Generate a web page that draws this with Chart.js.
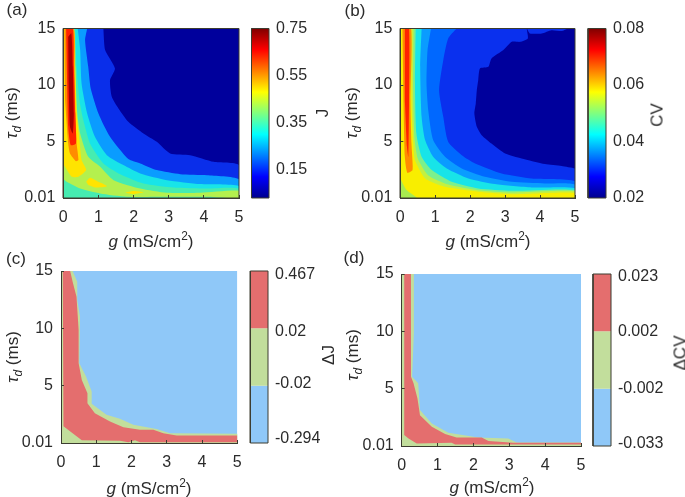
<!DOCTYPE html>
<html><head><meta charset="utf-8">
<script src="https://cdn.jsdelivr.net/npm/chart.js@4"></script>
<style>
html,body{margin:0;padding:0;background:#fff;width:685px;height:497px;overflow:hidden}
canvas{position:absolute;left:0;top:0}
.t{position:absolute;font-family:"Liberation Sans",Arial,sans-serif;color:#2b2b2b;white-space:nowrap;transform:translate(-50%,-50%);font-size:17px;line-height:1}
.r{transform:translate(-50%,-50%) rotate(-90deg)}
sub,sup{font-size:70%;line-height:0}
</style></head><body>
<script>
// ---------- data: contour boundaries in (g, tau_d) ----------
const gTicks=[0,1,2,3,4,5];
const tauTicks=[0.01,5,10,15];
const fullField=[[0,0.01],[5,0.01],[5,15],[0,15]];

// panel (a) J
const aBlue=[[1.14,15],[1.19,13.09],[1.47,11.46],[1.33,10.43],[1.38,8.96],[1.57,7.93],[1.85,6.75],[2.28,5.72],[2.66,4.98],[3.04,3.95],[3.61,3.8],[4.28,3.21],[5,2.92]];
const aAzure=[[0.68,15],[0.62,13.97],[0.71,11.61],[0.78,9.7],[1,7.49],[1.33,5.42],[1.85,3.45],[2.19,3.07],[2.66,2.48],[3.33,2.12],[4.09,2.03],[5,1.68]];
const aCyan=[[0.41,15],[0.48,13.09],[0.52,10.14],[0.68,7.49],[0.9,5.42],[1.24,3.8],[1.71,2.92],[2.19,2.18],[2.95,1.59],[3.9,1.24],[5,1.06]];
const aAqua=[[0.34,15],[0.38,11.61],[0.46,8.66],[0.57,6.9],[0.76,4.83],[1.14,3.07],[1.62,2.12],[2.28,1.3],[3.14,0.94],[4.09,0.85],[5,0.85]];
const aLime=[[0.3,15],[0.34,11.61],[0.4,7.49],[0.48,5.72],[0.71,3.65],[1.05,2.77],[1.43,1.59],[2.19,0.85],[2.95,0.47],[3.9,0.47],[5,0.65],[5,0.01],[4.09,0.12],[2.95,0.12],[1.81,0.12],[1.05,0.41],[0.48,0.85],[0.1,1.44],[0,1.74],[0,15]];
const aYellow=[[0,15],[0.3,15],[0.34,11.61],[0.38,7.49],[0.46,5.13],[0.52,3.36],[0.65,2.48],[0.43,1.89],[0.24,1.89],[0.05,2.77],[0,3.07]];
const aYellowBlob=[[0.65,1.44],[0.76,1.8],[1,1.44],[1.24,1.06],[0.9,0.94],[0.71,1.15]];
const aYellowStreak=[[1.76,0.47],[2,0.62],[2.28,0.5],[2,0.35]];
const aOrange=[[0.03,15],[0.3,15],[0.32,11.61],[0.35,7.49],[0.38,4.83],[0.43,3.36],[0.36,3.27],[0.19,3.95],[0.14,4.83],[0.05,8.66]];
const aRed=[[0.08,15],[0.27,15],[0.3,11.61],[0.34,7.49],[0.36,4.83],[0.21,4.69],[0.14,6.31],[0.1,11.61]];
const aDark=[[0.14,14.26],[0.23,14.56],[0.27,11.61],[0.3,7.49],[0.27,5.72],[0.19,6.31],[0.15,10.43]];

// panel (b) CV
const bNavy=[[5,15],[4.81,15],[4.62,14.77],[4.33,14.85],[4.05,14.56],[3.71,14.56],[3.62,15],[3.65,14.12],[3.43,13.82],[3.19,13.82],[2.95,13.09],[2.61,12.35],[2.52,11.61],[2.28,11.46],[2.23,10.43],[2.19,9.55],[2.16,8.37],[2.12,7.49],[2.19,6.31],[2.33,5.57],[2.61,4.83],[3,3.95],[3.47,3.51],[4.14,3.01],[4.62,2.83],[5,2.62]];
const bMid=[[1.61,15],[1.37,14.12],[1.23,12.2],[1.11,9.55],[1.23,7.19],[1.37,4.98],[1.76,3.8],[2.14,3.07],[2.9,2.18],[3.76,1.74],[5,1.5]];
const bAzure=[[0.88,15],[0.78,13.09],[0.75,10.14],[0.8,7.78],[0.94,5.13],[1.28,3.65],[1.76,2.62],[2.42,1.89],[3.19,1.44],[4.14,1.3],[5,1.21]];
const bCyan=[[0.61,15],[0.57,11.61],[0.61,7.19],[0.71,5.13],[0.94,3.65],[1.33,2.62],[1.95,1.74],[2.71,1.24],[3.76,0.94],[5,0.88]];
const bGreen=[[0.44,15],[0.42,10.14],[0.46,5.72],[0.61,3.65],[0.9,2.48],[1.47,1.44],[2.23,0.85],[3.19,0.65],[5,0.71]];
const bLime=[[0.38,15],[0.37,9],[0.41,5.2],[0.5,3.5],[0.8,2],[1.37,1.2],[2.23,0.7],[3.19,0.5],[5,0.6]];
const bYellow=[[0.32,15],[0.32,8.66],[0.37,4.83],[0.42,3.36],[0.71,1.74],[1.28,1],[2.23,0.56],[3.19,0.35],[5,0.47]];
const bCorner=[[0,1.74],[0.18,0.71],[0.47,0.01],[0,0.01]];
const bOrange=[[0.06,15],[0.31,15],[0.29,8.66],[0.32,4.83],[0.35,2.48],[0.2,2.24],[0.13,3.65],[0.09,8.66]];
const bRed=[[0.13,15],[0.25,15],[0.25,8.66],[0.23,3.65],[0.19,4.54],[0.13,8.66]];

// panel (c) delta J
const cGreen=[[0.33,15],[0.46,14.07],[0.46,12.47],[0.54,11.02],[0.52,6.96],[0.71,5.8],[0.87,4.5],[0.87,3.42],[1.29,2.47],[1.67,2.12],[2.05,1.6],[2.71,1.22],[3.09,0.87],[5,0.81]];
const cRed=[[0.26,15],[0.33,14.07],[0.44,12.76],[0.5,9.86],[0.5,6.96],[0.59,5.51],[0.75,4.35],[0.75,3.48],[0.96,2.61],[1.39,1.89],[1.77,1.39],[2.24,1.16],[2.62,1.16],[2.9,0.87],[3.28,0.67],[5,0.67],[5,0.07],[2.24,0.07],[2.1,0.24],[1.91,0.07],[1.67,0.21],[0.59,0.24],[0.07,1.46],[0.05,15]];

// panel (d) delta CV
const dGreen=[[0.34,15],[0.34,9.83],[0.29,6.05],[0.46,5.47],[0.51,3.14],[0.84,1.98],[1.3,1.16],[2.14,0.76],[2.97,0.67],[3.21,0.32],[5,0.32]];
const dRed=[[0.07,15],[0.26,15],[0.26,6.05],[0.33,5.47],[0.44,4.16],[0.51,2.7],[0.84,1.69],[1.21,1.05],[1.53,0.76],[2.23,0.76],[2.42,0.44],[3.11,0.29],[5,0.29],[5,0.15],[1.49,0.15],[1.39,0.29],[0.42,0.23],[0.19,0.67],[0.07,0.96]];

// colour bars
const aBarTicks=[0.75,0.55,0.35,0.15];
const aBarRange=[0.027,0.75];
const bBarTicks=[0.08,0.06,0.04,0.02];
const bBarRange=[0.02,0.08];
const cBarLabels=['-0.294','-0.02','0.02','0.467'];
const cBarLabelPos=[0.07,1.03,1.95,2.935];
const dBarLabels=['-0.033','-0.002','0.002','0.023'];
const dBarLabelPos=[0.035,1,1.99,2.95];

// ---------- styles ----------
const jetStops=[[0,'#00008f'],[0.125,'#0000ff'],[0.375,'#00ffff'],[0.625,'#ffff00'],[0.875,'#ff0000'],[1,'#800000']];
const NAVY='#00009c',BLUE='#0a2eea',MID='#0068ff',AZ='#0a9cff',CY='#18e4e8',AQ='#46ecb0',LIME='#b4f04e',YEL='#ffe400',OR='#ff8c00',RD='#ff2200',DK='#a80000';
const SKY='#8fc8f8',PALE='#c2de9c',ROSE='#e46e6e';
const FRAME='#3c3c30',TXT='#2b2b2b',FONT='"Liberation Sans",Arial,sans-serif';

const closed=c=>[...c,[5.5,-0.5],[-0.5,-0.5],[-0.5,15.5]];
const panels=[
 {box:[63.3,28.5,239,198],bar:[251.5,28.5,269,198],frame:true,tension:0.2,layers:[[fullField,NAVY],[closed(aBlue),BLUE],[closed(aAzure),AZ],[closed(aCyan),CY],[closed(aAqua),AQ],[aLime,LIME],[aYellow,YEL],[aYellowBlob,YEL],[aYellowStreak,YEL],[aOrange,OR],[aRed,RD],[aDark,DK]]},
 {box:[400.3,28.5,575,198],bar:[588,28.5,606,198],frame:true,tension:0.2,layers:[[fullField,'#0a30ee'],[bNavy,NAVY],[closed(bMid),MID],[closed(bAzure),AZ],[closed(bCyan),CY],[closed(bGreen),'#7cf08c'],[closed(bLime),'#c4f040'],[closed(bYellow),'#f8ee00'],[bCorner,'#a8ec50'],[bOrange,OR],[bRed,RD]]},
 {box:[61,271,237.3,443],bar:[250.3,271,268,443],frame:false,tension:0,layers:[[fullField,SKY],[closed(cGreen),PALE],[cRed,ROSE]]},
 {box:[401.7,274,581,446],bar:[593,274,611,446],frame:false,tension:0,layers:[[fullField,SKY],[closed(dGreen),PALE],[dRed,ROSE]]}
];

const W=685,H=497;
function canvas(){const c=document.createElement('canvas');c.width=W;c.height=H;c.style.width=W+'px';c.style.height=H+'px';document.body.appendChild(c);return c;}
const poly=(pts,color,i,tension)=>({data:pts.map(p=>({x:p[0],y:p[1]})),showLine:true,fill:'shape',backgroundColor:color,borderWidth:0,pointRadius:0,tension:i===0?0:(tension||0),capBezierPoints:false,order:100-i});
const frameSet=(r)=>({data:[[r.x0,r.y0],[r.x1,r.y0],[r.x1,r.y1],[r.x0,r.y1],[r.x0,r.y0]].map(p=>({x:p[0],y:p[1]})),showLine:true,fill:false,borderColor:FRAME,borderWidth:1,pointRadius:0,tension:0,clip:false,order:0});

function plot(p){
 const [l,t,r,b]=p.box;
 const ds=p.layers.map(([pts,col],i)=>poly(pts,col,i,p.tension));
 if(p.frame) ds.push(frameSet({x0:0,x1:5,y0:0.01,y1:15}));
 new Chart(canvas(),{type:'scatter',data:{datasets:ds},options:{
  responsive:false,animation:false,events:[],
  layout:{padding:{left:0,top:t,right:W-r,bottom:H-b-30}},
  plugins:{legend:{display:false},tooltip:{enabled:false}},
  scales:{
   x:{type:'linear',min:0,max:5,afterFit:s=>{s.height=30},afterBuildTicks:s=>{s.ticks=gTicks.map(v=>({value:v}))},
      grid:{drawOnChartArea:false,tickLength:-3,color:FRAME,z:1},border:{color:FRAME,width:1,z:1},
      ticks:{color:TXT,font:{family:FONT,size:16},padding:13,maxRotation:0,callback:v=>String(v)}},
   y:{type:'linear',min:0.01,max:15,afterFit:s=>{s.width=l},afterBuildTicks:s=>{s.ticks=tauTicks.map(v=>({value:v}))},
      grid:{drawOnChartArea:false,tickLength:-3,color:FRAME,z:1},border:{color:FRAME,width:1,z:1},
      ticks:{color:TXT,font:{family:FONT,size:16},padding:11,callback:v=>String(v)}}
  }}});
}
function colorbar(p,cfg){
 const [l,t,r,b]=p.bar;
 const cv=canvas();
 const [lo,hi]=cfg.range;
 let layers;
 if(cfg.jet){
  const g=cv.getContext('2d').createLinearGradient(0,b,0,t);
  jetStops.forEach(s=>g.addColorStop(s[0],s[1]));
  layers=[poly([[0,lo],[1,lo],[1,hi],[0,hi]],g,0,0)];
 } else {
  layers=[poly([[0,0],[1,0],[1,1],[0,1]],SKY,0,0),poly([[0,1],[1,1],[1,2],[0,2]],PALE,1,0),poly([[0,2],[1,2],[1,3],[0,3]],ROSE,2,0)];
 }
 layers.push(frameSet({x0:0,x1:1,y0:lo,y1:hi}));
 new Chart(cv,{type:'scatter',data:{datasets:layers},options:{
  responsive:false,animation:false,events:[],
  layout:{padding:{left:l,top:t,right:W-r-60,bottom:H-b}},
  plugins:{legend:{display:false},tooltip:{enabled:false}},
  scales:{
   x:{type:'linear',display:false,min:0,max:1},
   y:{type:'linear',position:'right',min:lo,max:hi,afterFit:s=>{s.width=60},
      afterBuildTicks:s=>{s.ticks=cfg.pos.map(v=>({value:v}))},
      grid:{display:false,drawTicks:false},border:{display:false},
      ticks:{color:TXT,font:{family:FONT,size:16},padding:7,callback:v=>{const i=cfg.pos.indexOf(v);return cfg.labels[i];}}}
  }}});
}
panels.forEach(plot);
colorbar(panels[0],{jet:true,range:aBarRange,pos:aBarTicks,labels:aBarTicks.map(String)});
colorbar(panels[1],{jet:true,range:bBarRange,pos:bBarTicks,labels:bBarTicks.map(String)});
colorbar(panels[2],{jet:false,range:[0,3],pos:cBarLabelPos,labels:cBarLabels});
colorbar(panels[3],{jet:false,range:[0,3],pos:dBarLabelPos,labels:dBarLabels});

// ---------- text ----------
const GLABEL='<i>g</i> (mS/cm<sup>2</sup>)';
const TLABEL='<i>&tau;<sub>d</sub></i> (ms)';
const texts=[
 ['(a)',17,9,0],['(b)',355,10,0],['(c)',16,258,0],['(d)',354,257,0],
 [GLABEL,151,241,0],[GLABEL,488,241,0],[GLABEL,149,488,0],[GLABEL,492,487,0],
 [TLABEL,11,113,1],[TLABEL,351,113,1],[TLABEL,12,357,1],[TLABEL,352,355,1],
 ['J',322,113,1],['CV',657,115,1],['&Delta;J',328,355,1],['&Delta;CV',680,353,1]
];
texts.forEach(([h,x,y,rot])=>{const d=document.createElement('div');d.className='t'+(rot?' r':'');d.innerHTML=h;d.style.left=x+'px';d.style.top=y+'px';document.body.appendChild(d);});
</script>
</body></html>
